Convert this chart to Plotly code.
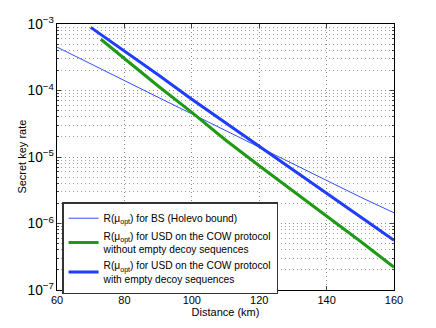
import plotly.graph_objects as go

# Distance (km)
dist_bs = [60, 70, 80, 90, 100, 110, 120, 130, 140, 150, 160]
rate_bs = [4.5e-4, 2.5e-4, 1.41e-4, 7.9e-5, 4.45e-5, 2.5e-5, 1.41e-5, 7.9e-6, 4.45e-6, 2.5e-6, 1.45e-6]

dist_usd_no = [73, 80, 90, 100, 110, 120, 130, 140, 150, 160]
rate_usd_no = [5.9e-4, 3.0e-4, 1.17e-4, 4.7e-5, 1.8e-5, 7.4e-6, 3.1e-6, 1.29e-6, 5.4e-7, 2.2e-7]

dist_usd_empty = [70, 80, 90, 100, 110, 120, 130, 140, 150, 160]
rate_usd_empty = [8.9e-4, 3.95e-4, 1.72e-4, 7.4e-5, 3.3e-5, 1.45e-5, 6.4e-6, 2.85e-6, 1.26e-6, 5.6e-7]

names = [
    "R(\u03bc<sub>opt</sub>) for BS (Holevo bound)",
    "R(\u03bc<sub>opt</sub>) for USD on the COW protocol<br>without empty decoy sequences",
    "R(\u03bc<sub>opt</sub>) for USD on the COW protocol<br>with empty decoy sequences",
]

fig = go.Figure()
fig.add_trace(go.Scatter(x=dist_bs, y=rate_bs, mode="lines", name=names[0],
                         line=dict(color="#3050ff", width=1)))
fig.add_trace(go.Scatter(x=dist_usd_no, y=rate_usd_no, mode="lines", name=names[1],
                         line=dict(color="#1e9a14", width=3)))
fig.add_trace(go.Scatter(x=dist_usd_empty, y=rate_usd_empty, mode="lines", name=names[2],
                         line=dict(color="#1f3dff", width=3)))

grid = dict(gridcolor="#8a8a8a", griddash="1px,3px", gridwidth=1)

# the page body has an 8px margin, so the figure is sized to fit inside it
fig.update_layout(
    width=420, height=312,
    margin=dict(l=49, r=34, t=16, b=30),
    paper_bgcolor="white", plot_bgcolor="white",
    font=dict(family="Liberation Sans, Arial, sans-serif", size=11, color="black"),
    legend=dict(x=0.015, y=0.33, xanchor="left", yanchor="top",
                bgcolor="white", bordercolor="#333333", borderwidth=1.5,
                font=dict(size=10.2), tracegroupgap=0),
)
fig.update_xaxes(
    range=[60, 160], dtick=20, tick0=60, ticks="inside", ticklen=4,
    showline=True, linecolor="black", mirror="ticks", showgrid=True, **grid,
    zeroline=False, automargin=False,
    title=dict(text="Distance (km)", standoff=2, font=dict(size=11)),
)
fig.update_yaxes(
    type="log", range=[-7, -3], dtick=1, exponentformat="power",
    ticks="inside", ticklen=4, showline=True, linecolor="black", mirror="ticks",
    showgrid=True, **grid, automargin=False,
    minor=dict(ticks="inside", ticklen=2, showgrid=True, gridcolor="#a0a0a0",
               griddash="1px,3px", gridwidth=1),
)
# y title as annotation so it sits where the reference has it
fig.add_annotation(text="Secret key rate", xref="paper", yref="paper",
                   x=-0.105, y=0.5, xanchor="center", yanchor="middle",
                   textangle=-90, showarrow=False, font=dict(size=11))

fig.write_html("out.html")
